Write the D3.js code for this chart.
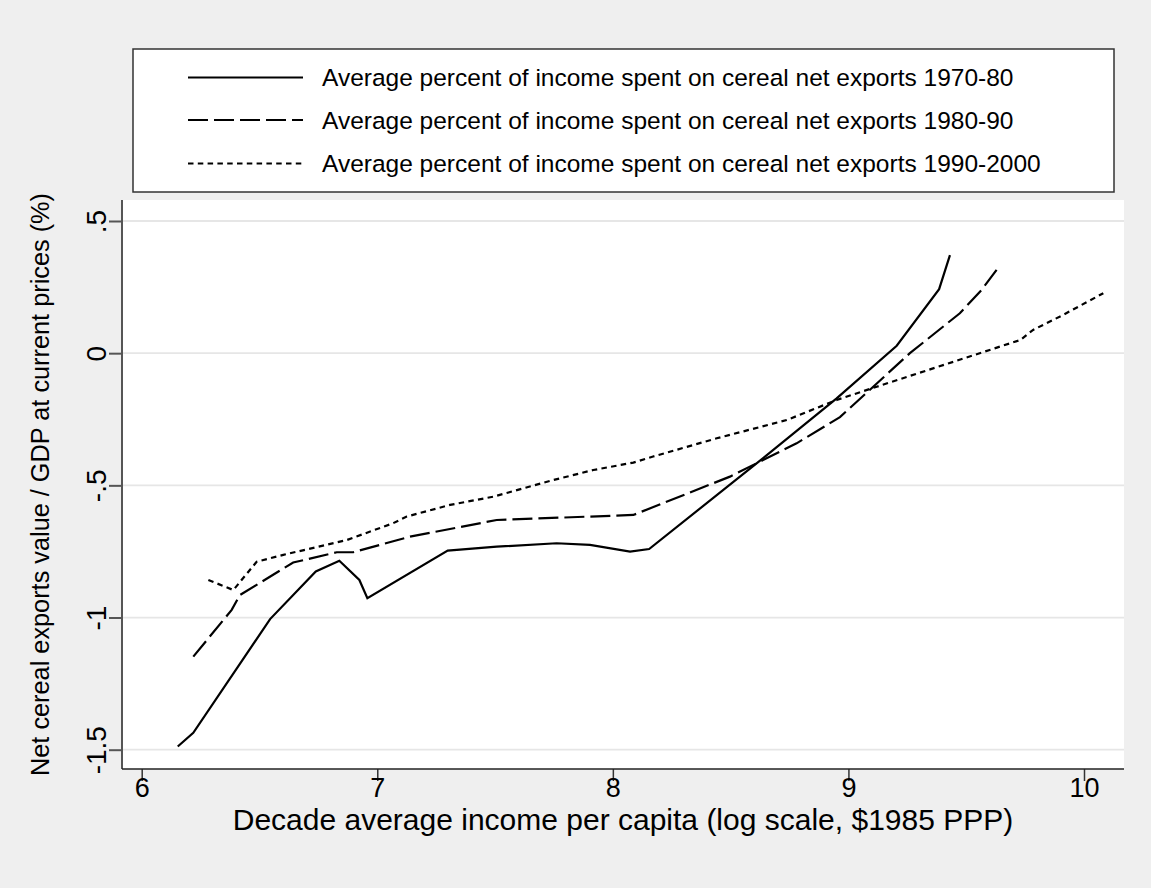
<!DOCTYPE html>
<html>
<head>
<meta charset="utf-8">
<script src="https://cdn.jsdelivr.net/npm/d3@7"></script>
<style>
  html, body { margin: 0; padding: 0; background: #efefef; }
  svg { display: block; font-family: "Liberation Sans", Arial, sans-serif; }
</style>
</head>
<body>
<svg id="chart" width="1151" height="888"></svg>
<script>
// Decade-average log income per capita (x) and net cereal exports share of GDP, % (y)
const income7080 = [6.153, 6.219, 6.545, 6.739, 6.839, 6.924, 6.958, 7.299, 7.507, 7.761, 7.903, 8.073, 8.154, 8.638, 8.950, 9.205, 9.385, 9.431];
const share7080  = [-1.488, -1.436, -1.006, -0.826, -0.785, -0.858, -0.927, -0.747, -0.732, -0.719, -0.725, -0.751, -0.741, -0.397, -0.171, 0.028, 0.242, 0.371];

const income8090 = [6.219, 6.382, 6.417, 6.643, 6.828, 6.898, 7.139, 7.507, 8.087, 8.497, 8.780, 8.964, 9.261, 9.473, 9.565, 9.629];
const share8090  = [-1.148, -0.971, -0.915, -0.792, -0.753, -0.753, -0.694, -0.631, -0.612, -0.467, -0.341, -0.242, 0.000, 0.151, 0.239, 0.315];

const income9000 = [6.283, 6.389, 6.488, 6.601, 6.870, 7.068, 7.125, 7.309, 7.492, 7.747, 7.917, 8.087, 8.171, 8.441, 8.738, 8.950, 9.120, 9.730, 9.784, 9.912, 10.082];
const share9000  = [-0.858, -0.896, -0.789, -0.763, -0.707, -0.643, -0.618, -0.574, -0.543, -0.480, -0.442, -0.414, -0.391, -0.322, -0.253, -0.177, -0.127, 0.050, 0.088, 0.145, 0.227];

const seriesLabels = [
  "Average percent of income spent on cereal net exports 1970-80",
  "Average percent of income spent on cereal net exports 1980-90",
  "Average percent of income spent on cereal net exports 1990-2000"
];
const xTickValues = [6, 7, 8, 9, 10];
const yTickValues = [-1.5, -1, -0.5, 0, 0.5];
const yTickLabels = ["-1.5", "-1", "-.5", "0", ".5"];

const xTitle = "Decade average income per capita (log scale, $1985 PPP)";
const yTitle = "Net cereal exports value / GDP at current prices (%)";

// ---- layout ----
const plot = { left: 122, right: 1124, top: 200, bottom: 769 };
const svg = d3.select("#chart");

svg.append("rect").attr("width", 1151).attr("height", 888).attr("fill", "#efefef");

const x = d3.scaleLinear().domain([6, 10]).range([141.7, 1084]);
const y = d3.scaleLinear().domain([-1.5, 0.5]).range([749.7, 221]);

// plot region
svg.append("rect")
  .attr("x", plot.left).attr("y", plot.top)
  .attr("width", plot.right - plot.left).attr("height", plot.bottom - plot.top)
  .attr("fill", "#ffffff");

// horizontal grid lines
svg.append("g").selectAll("line").data(yTickValues).join("line")
  .attr("x1", plot.left).attr("x2", plot.right)
  .attr("y1", d => y(d)).attr("y2", d => y(d))
  .attr("stroke", "#e6e6e6").attr("stroke-width", 1.8);

// y axis
const yAxis = d3.axisLeft(y).tickValues(yTickValues)
  .tickFormat((d, i) => yTickLabels[i]).tickSize(13).tickPadding(0);
const gy = svg.append("g").attr("transform", `translate(${plot.left},0)`).call(yAxis);
gy.select(".domain").remove();
gy.selectAll(".tick line").attr("stroke", "#555").attr("stroke-width", 2);
gy.selectAll(".tick text")
  .attr("x", 0).attr("y", 0).attr("dy", 0)
  .attr("transform", "translate(-16,0) rotate(-90)")
  .attr("text-anchor", "middle")
  .attr("fill", "#000")
  .style("font-size", "28px");
svg.append("line")
  .attr("x1", plot.left).attr("x2", plot.left)
  .attr("y1", plot.top).attr("y2", plot.bottom)
  .attr("stroke", "#555").attr("stroke-width", 2);

// x axis
const xAxis = d3.axisBottom(x).tickValues(xTickValues)
  .tickFormat(d3.format("d")).tickSize(12).tickPadding(0);
const gx = svg.append("g").attr("transform", `translate(0,${plot.bottom})`).call(xAxis);
gx.select(".domain").remove();
gx.selectAll(".tick line").attr("stroke", "#333").attr("stroke-width", 1.5);
gx.selectAll(".tick text")
  .attr("y", 28).attr("dy", 0)
  .attr("fill", "#000")
  .style("font-size", "27px");
svg.append("line")
  .attr("x1", plot.left).attr("x2", plot.right)
  .attr("y1", plot.bottom).attr("y2", plot.bottom)
  .attr("stroke", "#222").attr("stroke-width", 1.6);

// axis titles
svg.append("text")
  .attr("x", (plot.left + plot.right) / 2).attr("y", 830)
  .attr("text-anchor", "middle").style("font-size", "30px")
  .text(xTitle);
svg.append("text")
  .attr("transform", `translate(49,${(plot.top + plot.bottom) / 2}) rotate(-90)`)
  .attr("text-anchor", "middle").style("font-size", "25.3px")
  .text(yTitle);

// ---- series ----
const series = [
  { xs: income7080, ys: share7080, dash: null },
  { xs: income8090, ys: share8090, dash: "20,6" },
  { xs: income9000, ys: share9000, dash: "5.5,4.3" }
];
const line = d3.line().x(d => x(d[0])).y(d => y(d[1]));

svg.append("g").selectAll("path").data(series).join("path")
  .attr("d", s => line(s.xs.map((v, i) => [v, s.ys[i]])))
  .attr("fill", "none")
  .attr("stroke", "#000")
  .attr("stroke-width", 2.2)
  .attr("stroke-linejoin", "miter")
  .attr("stroke-dasharray", s => s.dash);

// ---- legend ----
const legend = svg.append("g");
legend.append("rect")
  .attr("x", 133).attr("y", 49).attr("width", 981).attr("height", 143)
  .attr("fill", "#fff").attr("stroke", "#333").attr("stroke-width", 1.5);
const rowY = [77.5, 120, 163.5];
const rows = legend.selectAll("g.row").data(series).join("g")
  .attr("class", "row")
  .attr("transform", (d, i) => `translate(0,${rowY[i]})`);
rows.append("line")
  .attr("x1", 188).attr("x2", 303)
  .attr("stroke", "#000").attr("stroke-width", 2.2)
  .attr("stroke-dasharray", d => d.dash);
rows.append("text")
  .attr("x", 322).attr("y", 8.5)
  .style("font-size", "24.5px")
  .text((d, i) => seriesLabels[i]);
</script>
</body>
</html>
